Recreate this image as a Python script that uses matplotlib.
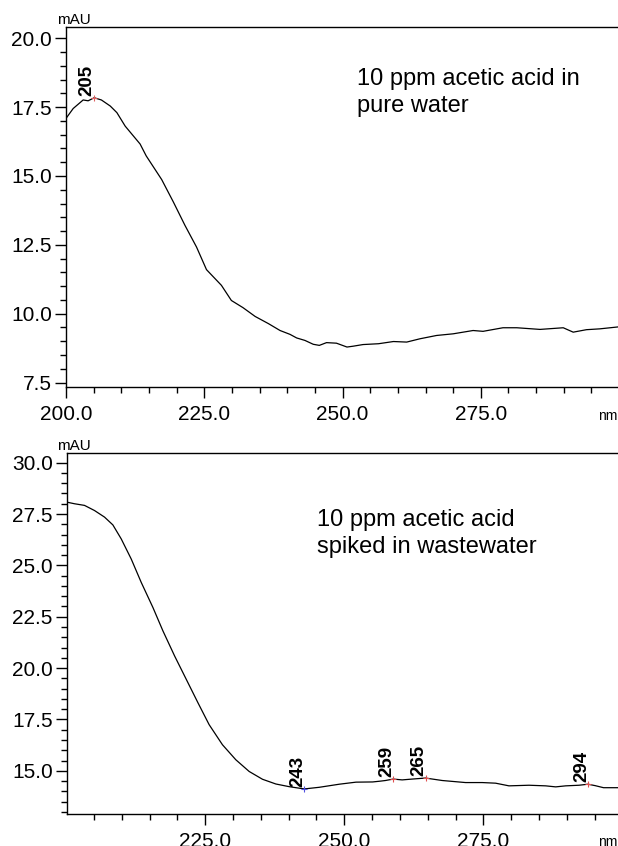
import matplotlib
matplotlib.use("Agg")
import matplotlib.pyplot as plt
from matplotlib.ticker import MultipleLocator, FormatStrFormatter

plt.rcParams['font.family'] = ['Liberation Sans', 'DejaVu Sans']

# top spectrum: 10 ppm acetic acid in pure water
wl_top = [200.0, 201.3, 203.1, 204.0, 205.1, 206.4, 208.0, 209.2, 210.7, 213.4,
          214.5, 217.3, 219.4, 221.5, 223.6, 225.4, 228.1, 229.9, 232.0, 234.2,
          236.6, 238.7, 240.5, 241.7, 243.2, 244.7, 245.8, 247.1, 248.9, 250.8,
          251.9, 253.7, 256.5, 259.2, 261.6, 264.0, 267.0, 270.0, 273.6, 275.4,
          279.0, 281.5, 285.7, 289.9, 291.7, 294.1, 296.5, 299.8]
abs_top = [17.09, 17.45, 17.76, 17.73, 17.84, 17.76, 17.54, 17.30, 16.81, 16.16,
           15.73, 14.87, 14.06, 13.21, 12.42, 11.60, 11.03, 10.48, 10.22, 9.90,
           9.64, 9.39, 9.25, 9.12, 9.03, 8.89, 8.85, 8.95, 8.93, 8.79,
           8.82, 8.88, 8.91, 8.99, 8.97, 9.09, 9.21, 9.27, 9.39, 9.36,
           9.49, 9.49, 9.43, 9.49, 9.33, 9.42, 9.45, 9.52]
peaks_top = [205.1]
peak_abs_top = [17.84]
peak_lbl_top = ["205"]

# bottom spectrum: 10 ppm acetic acid spiked in wastewater
wl_bot = [200.1, 201.5, 203.3, 205.1, 206.9, 208.4, 209.9, 211.7, 213.5, 215.6,
          217.4, 219.5, 221.6, 223.7, 225.7, 228.1, 230.5, 232.9, 235.3, 237.7,
          240.1, 242.8, 245.5, 249.1, 252.1, 255.1, 256.5, 257.4, 258.8, 260.4,
          262.2, 264.6, 267.6, 271.8, 274.8, 277.2, 279.6, 283.2, 286.2, 288.0,
          289.8, 292.2, 293.8, 295.1, 296.6, 299.2]
abs_bot = [28.08, 28.00, 27.92, 27.67, 27.35, 26.97, 26.29, 25.31, 24.17, 22.95,
           21.81, 20.59, 19.45, 18.31, 17.25, 16.27, 15.54, 14.97, 14.59, 14.36,
           14.23, 14.12, 14.20, 14.35, 14.45, 14.46, 14.50, 14.53, 14.60, 14.56,
           14.60, 14.65, 14.53, 14.43, 14.43, 14.40, 14.27, 14.30, 14.27, 14.22,
           14.27, 14.30, 14.35, 14.28, 14.18, 14.18]
peaks_bot = [242.8, 258.8, 264.6, 293.8]
peak_abs_bot = [14.12, 14.60, 14.65, 14.35]
peak_lbl_bot = ["243", "259", "265", "294"]
peak_col_bot = ["#5050e0", "#e05050", "#e05050", "#e05050"]

W, H = 618, 846
fig = plt.figure(figsize=(W / 100, H / 100), dpi=100)

ax1 = fig.add_axes([66 / W, 1 - 386.7 / H, 552 / W, 360 / H])
ax2 = fig.add_axes([66.7 / W, 1 - 814 / H, (W - 66.7) / W, 361 / H])


def style(ax, xlim, ylim, xticks, yticks):
    ax.set_xlim(*xlim)
    ax.set_ylim(*ylim)
    ax.spines['right'].set_visible(False)
    for s in ['left', 'top', 'bottom']:
        ax.spines[s].set_linewidth(1.0)
    ax.set_xticks(xticks)
    ax.set_yticks(yticks)
    ax.xaxis.set_minor_locator(MultipleLocator(5))
    ax.yaxis.set_minor_locator(MultipleLocator(0.5))
    ax.xaxis.set_major_formatter(FormatStrFormatter('%.1f'))
    ax.yaxis.set_major_formatter(FormatStrFormatter('%.1f'))
    ax.tick_params(which='major', length=8, width=1, labelsize=15, pad=4)
    ax.tick_params(which='minor', length=4, width=1)
    ax.tick_params(axis='y', which='major', pad=2)
    ax.tick_params(axis='x', which='major', pad=5)


# top panel
ax1.plot(wl_top, abs_top, color='black', lw=0.9)
ax1.plot(peaks_top, peak_abs_top, '+', color='#e06060', ms=4, mew=0.8)
for x, y, t in zip(peaks_top, peak_abs_top, peak_lbl_top):
    ax1.text(x + 0.3, y + 0.08, t, rotation=90, ha='right', va='bottom',
             fontsize=13.5, fontweight='bold')
style(ax1, (200, 299.8), (7.35, 20.42), [200, 225, 250, 275],
      [7.5, 10, 12.5, 15, 17.5, 20])

# bottom panel
ax2.plot(wl_bot, abs_bot, color='black', lw=0.9)
for x, y, t, c in zip(peaks_bot, peak_abs_bot, peak_lbl_bot, peak_col_bot):
    ax2.plot(x, y, '+', color=c, ms=4, mew=0.8)
    ax2.text(x + 0.4, y + 0.1, t, rotation=90, ha='right', va='bottom',
             fontsize=13.5, fontweight='bold')
style(ax2, (200.1, 299.2), (12.9, 30.47), [225, 250, 275],
      [15, 17.5, 20, 22.5, 25, 27.5, 30])

# axis unit labels
fig.text(57 / W, 1 - 24 / H, "mAU", fontsize=11, ha='left', va='baseline')
fig.text(57 / W, 1 - 450 / H, "mAU", fontsize=11, ha='left', va='baseline')
fig.text(598 / W, 1 - 420 / H, "nm", fontsize=10, ha='left', va='baseline')
fig.text(598 / W, 1 - 846 / H, "nm", fontsize=10, ha='left', va='baseline')

fig.text(357 / W, 1 - 68 / H, "10 ppm acetic acid in\npure water",
         fontsize=17, ha='left', va='top', linespacing=1.3)
fig.text(317 / W, 1 - 509 / H, "10 ppm acetic acid\nspiked in wastewater",
         fontsize=17, ha='left', va='top', linespacing=1.3)

fig.savefig("out.png", dpi=100)
